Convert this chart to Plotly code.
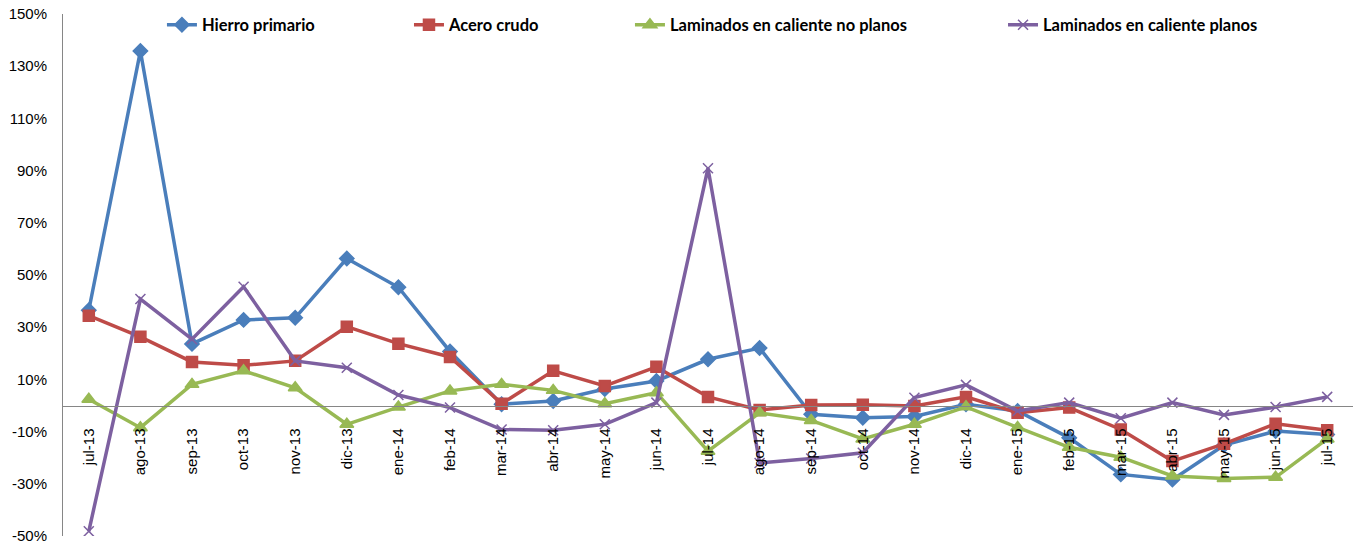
import plotly.graph_objects as go

# Categorías (meses)
meses = ["jul-13", "ago-13", "sep-13", "oct-13", "nov-13", "dic-13", "ene-14", "feb-14",
         "mar-14", "abr-14", "may-14", "jun-14", "jul-14", "ago-14", "sep-14", "oct-14",
         "nov-14", "dic-14", "ene-15", "feb-15", "mar-15", "abr-15", "may-15", "jun-15", "jul-15"]

# Variación interanual (%)
hierro_primario = [36.5, 135.8, 23.6, 32.8, 33.6, 56.3, 45.3, 20.7, 0.5, 1.7, 6.3, 9.4, 17.7,
                   22.0, -3.4, -4.7, -4.2, 0.5, -2.1, -12.4, -26.4, -28.4, -15.2, -9.8, -11.1]
acero_crudo = [34.4, 26.3, 16.7, 15.4, 17.1, 30.2, 23.7, 18.6, 0.7, 13.3, 7.5, 14.8, 3.3,
               -1.7, 0.2, 0.3, -0.2, 3.3, -2.8, -0.8, -9.2, -21.3, -14.7, -7.0, -9.5]
lam_no_planos = [2.4, -8.5, 8.1, 13.3, 6.8, -7.2, -0.6, 5.6, 8.1, 5.8, 0.7, 4.9, -17.5,
                 -2.8, -5.7, -12.8, -7.2, -0.5, -8.4, -16.0, -19.8, -27.0, -28.0, -27.5, -12.8]
lam_planos = [-48.2, 40.8, 25.4, 45.5, 17.1, 14.5, 4.0, -0.8, -9.2, -9.5, -7.2, 1.1, 90.9,
              -22.0, -20.3, -18.1, 3.0, 7.9, -2.1, 1.1, -4.9, 1.1, -3.6, -0.6, 3.3]

y_ticks = [-50, -30, -10, 10, 30, 50, 70, 90, 110, 130, 150]

series = [
    ("Hierro primario", hierro_primario, "#4A7EBB", "diamond", 11, "legend", 0.0767),
    ("Acero crudo", acero_crudo, "#BE4B48", "square", 11, "legend2", 0.2682),
    ("Laminados en caliente no planos", lam_no_planos, "#98B954", "triangle-up", 12, "legend3", 0.4395),
    ("Laminados en caliente planos", lam_planos, "#7D60A0", "x-thin-open", 10, "legend4", 0.7287),
]

fig = go.Figure()
layout_legends = {}
for nombre, valores, color, simbolo, tam, leg, lx in series:
    fig.add_trace(go.Scatter(
        x=meses, y=valores, name=nombre, mode="lines+markers",
        line=dict(color=color, width=3.5),
        marker=dict(symbol=simbolo, size=tam, color=color, line=dict(color=color, width=1.5)),
        legend=leg,
    ))
    layout_legends[leg] = dict(
        x=lx, y=0.979, xanchor="left", yanchor="middle", orientation="h",
        bgcolor="rgba(0,0,0,0)", itemwidth=30,
        font=dict(family="Lato", size=16.5, color="#000000", weight="bold"),
    )

fig.update_layout(
    width=1357, height=544,
    margin=dict(l=63, r=4, t=14, b=8),
    plot_bgcolor="white", paper_bgcolor="white",
    showlegend=True,
    **layout_legends,
)

fig.update_xaxes(
    type="category", range=[-0.5, len(meses) - 0.5],
    anchor="free", position=0.25, automargin=False,
    showline=True, linecolor="#868686", linewidth=1,
    showgrid=False, zeroline=False, ticks="",
    tickangle=-90, ticklabelstandoff=16,
    tickfont=dict(family="Liberation Sans", size=15, color="#000000"),
)
fig.update_yaxes(
    range=[-50, 150], tickvals=y_ticks, ticktext=[f"{v}%" for v in y_ticks],
    automargin=False, ticklabelstandoff=12, ticklabeloverflow="allow",
    showline=True, linecolor="#868686", linewidth=1,
    showgrid=False, zeroline=False, ticks="",
    tickfont=dict(family="Liberation Sans", size=15, color="#000000"),
)

# quitar el margen por defecto del body para que la figura empiece en (0, 0)
fig.write_html(
    "out.html",
    config={"displayModeBar": False},
    post_script="document.body.style.margin='0';document.body.style.overflow='hidden';",
)
